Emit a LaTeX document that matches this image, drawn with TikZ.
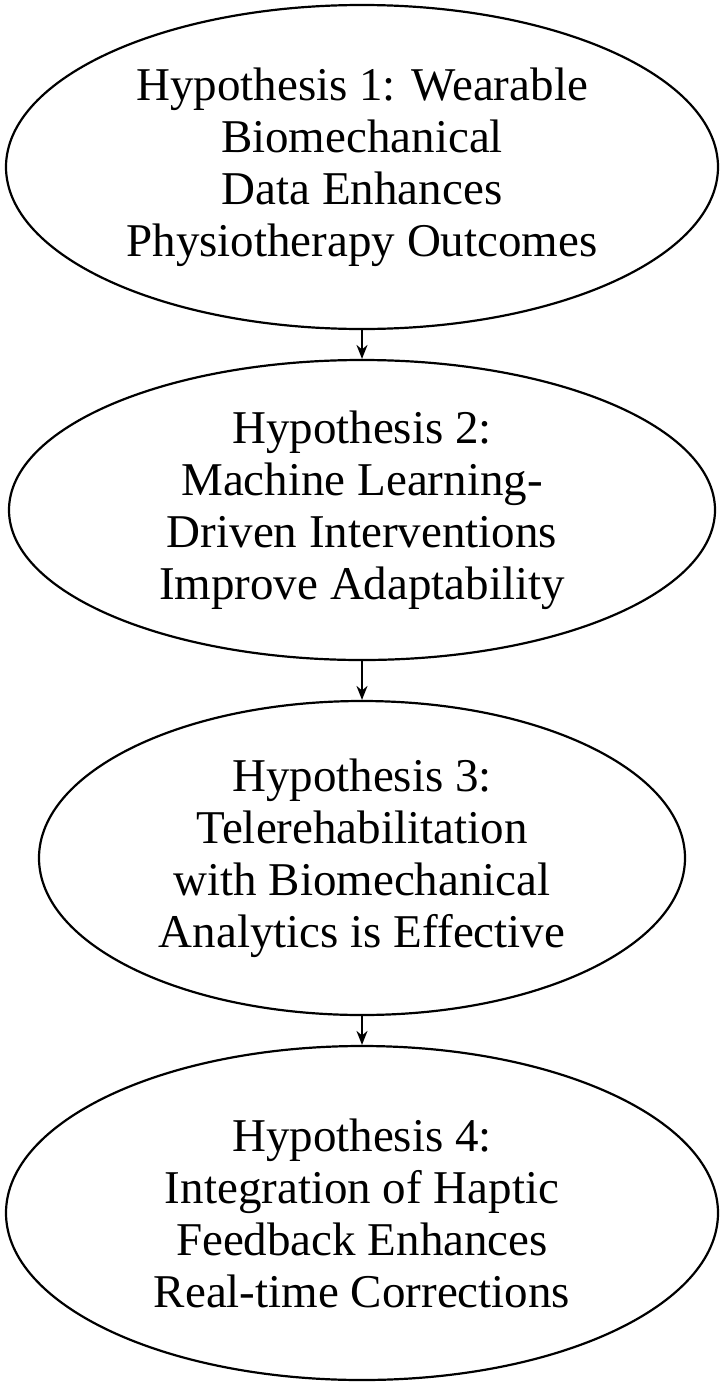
\documentclass[tikz,border=0pt]{standalone}
\usepackage{fontspec}
\setmainfont{Liberation Serif}
\usetikzlibrary{shapes.geometric,arrows.meta}
\begin{document}
\begin{tikzpicture}[x=1pt,y=-1pt,
  hyp/.style={draw,line width=2.2pt,ellipse,inner sep=0pt,align=center,font=\fontsize{47}{52}\selectfont},
  conn/.style={line width=1.8pt,-{Stealth[length=14pt,width=11pt]}}]
\useasboundingbox (0,0) rectangle (725,1387);
\node[hyp,minimum width=712pt,minimum height=324pt] (h1) at (362,167) {Hypothesis 1: Wearable\\Biomechanical\\Data Enhances\\Physiotherapy Outcomes};
\node[hyp,minimum width=706pt,minimum height=300pt] (h2) at (362,510) {Hypothesis 2:\\Machine Learning-\\Driven Interventions\\Improve Adaptability};
\node[hyp,minimum width=646pt,minimum height=314pt] (h3) at (362,858) {Hypothesis 3:\\Telerehabilitation\\with Biomechanical\\Analytics is Effective};
\node[hyp,minimum width=712pt,minimum height=334pt] (h4) at (362,1213) {Hypothesis 4:\\Integration of Haptic\\Feedback Enhances\\Real-time Corrections};
\draw[conn] (h1) -- (h2);
\draw[conn] (h2) -- (h3);
\draw[conn] (h3) -- (h4);
\end{tikzpicture}
\end{document}
